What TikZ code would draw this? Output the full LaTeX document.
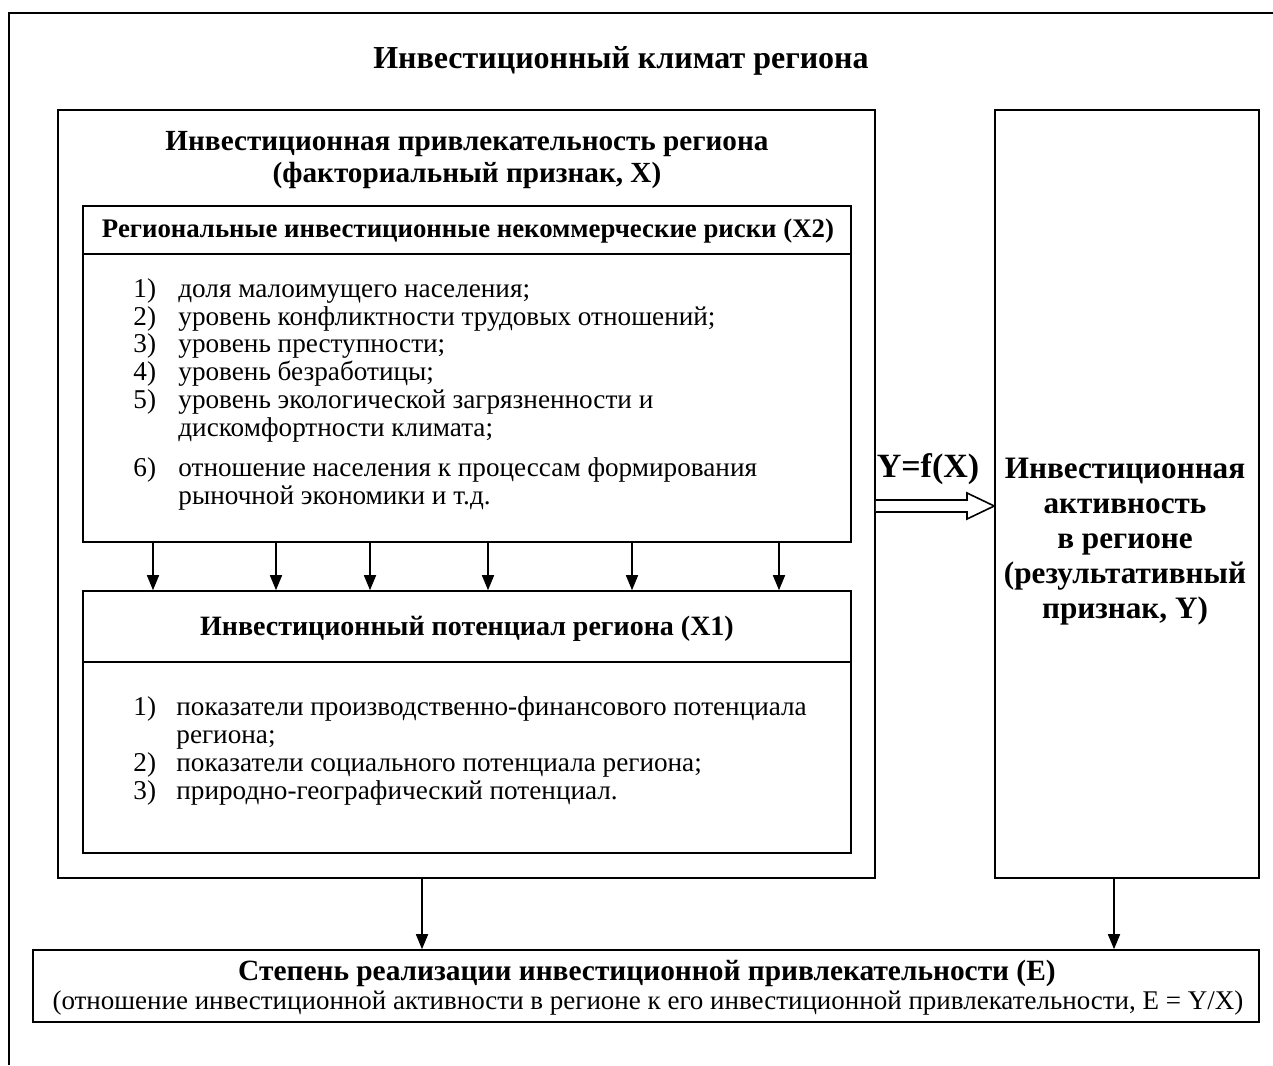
\documentclass[tikz,border=0pt]{standalone}
\usepackage{fontspec}
\setmainfont{Liberation Serif}
\usetikzlibrary{arrows.meta,fit}
\tikzset{
  box/.style={draw, line width=0.8pt, inner sep=0pt},
  arr/.style={line width=0.8pt, -{Triangle[width=6pt,length=7.5pt]}},
  ln/.style={line width=0.8pt},
  lt/.style={anchor=base west, inner sep=0pt, font=\fontsize{13.6}{16}\selectfont},
  hd/.style={anchor=base, inner sep=0pt, font=\fontsize{14.6}{17}\selectfont\bfseries},
  hs/.style={anchor=base, inner sep=0pt, font=\fontsize{13.4}{16}\selectfont\bfseries},
  rt/.style={anchor=base, inner sep=0pt, font=\fontsize{16}{19}\selectfont\bfseries},
  rb/.style={anchor=base, inner sep=0pt, font=\fontsize{15.6}{19}\selectfont\bfseries},
}
\begin{document}
\begin{tikzpicture}[x=0.5pt,y=-0.5pt]
\useasboundingbox (0,0) rectangle (1273,1065);
% outer frame (top and left edges)
\draw[line width=1pt] (9,1065) -- (9,13) -- (1273,13);
\node[rt] (title) at (621,68.5) {Инвестиционный климат региона};
% main box
\node[box, fit={(58,110) (875,878)}] (main) {};
\node[hd] (mainh1) at (467,150) {Инвестиционная привлекательность региона};
\node[hd] (mainh2) at (467,182) {(факториальный признак, X)};
% X2 box
\node[box, fit={(83,206) (851,542)}] (x2) {};
\draw[ln] (x2.west |- 0,254) -- (x2.east |- 0,254);
\node[hs] (x2h) at (468,237) {Региональные инвестиционные некоммерческие риски (X2)};
\node[lt] (a1n) at (133,297) {1)};
\node[lt] (a1) at (178,297) {доля малоимущего населения;};
\node[lt] (a2n) at (133,325) {2)};
\node[lt] (a2) at (178,325) {уровень конфликтности трудовых отношений;};
\node[lt] (a3n) at (133,352.5) {3)};
\node[lt] (a3) at (178,352.5) {уровень преступности;};
\node[lt] (a4n) at (133,380) {4)};
\node[lt] (a4) at (178,380) {уровень безработицы;};
\node[lt] (a5n) at (133,408) {5)};
\node[lt] (a5) at (178,408) {уровень экологической загрязненности и};
\node[lt] (a5b) at (178,436) {дискомфортности климата;};
\node[lt] (a6n) at (133,476) {6)};
\node[lt] (a6) at (178,476) {отношение населения к процессам формирования};
\node[lt] (a6b) at (178,504) {рыночной экономики и т.д.};
% X1 box
\node[box, fit={(83,591) (851,853)}] (x1) {};
\draw[ln] (x1.west |- 0,662) -- (x1.east |- 0,662);
\node[hs, font=\fontsize{14}{16}\selectfont\bfseries] (x1h) at (467,635) {Инвестиционный потенциал региона (X1)};
\node[lt] (b1n) at (133,715) {1)};
\node[lt] (b1) at (176,715) {показатели производственно-финансового потенциала};
\node[lt] (b1b) at (176,743) {региона;};
\node[lt] (b2n) at (133,771) {2)};
\node[lt] (b2) at (176,771) {показатели социального потенциала региона;};
\node[lt] (b3n) at (133,799) {3)};
\node[lt] (b3) at (176,799) {природно-географический потенциал.};
% arrows X2 -> X1
\foreach \xx in {153,276,370,488,632,779}
  \draw[arr] (x2.south -| \xx,0) -- (x1.north -| \xx,0);
% right box
\node[box, fit={(995,110) (1259,878)}] (right) {};
\node[rb] (r1) at (1125,478.5) {Инвестиционная};
\node[rb] (r2) at (1125,513.5) {активность};
\node[rb] (r3) at (1125,548.5) {в регионе};
\node[rb] (r4) at (1125,583.5) {(результативный};
\node[rb] (r5) at (1125,618.5) {признак, Y)};
% double arrow main -> right
\draw[ln, fill=white] (main.east |- 0,500) -- (967,500) -- (967,493) -- (right.west |- 0,506)
  -- (967,519) -- (967,512) -- (main.east |- 0,512);
\node[rt, font=\fontsize{17}{20}\selectfont\bfseries] (yfx) at (928,477) {Y=f(X)};
% bottom box
\node[box, fit={(33,950) (1259,1022)}] (bot) {};
\node[hs, font=\fontsize{14.7}{17}\selectfont\bfseries] (both) at (647,980) {Степень реализации инвестиционной привлекательности (E)};
\node[anchor=base, inner sep=0pt, font=\fontsize{13.5}{16}\selectfont] (botl) at (648,1009) {(отношение инвестиционной активности в регионе к его инвестиционной привлекательности, E = Y/X)};
% arrows to bottom box
\draw[arr] (main.south -| 422,0) -- (bot.north -| 422,0);
\draw[arr] (right.south -| 1114,0) -- (bot.north -| 1114,0);
\end{tikzpicture}
\end{document}
